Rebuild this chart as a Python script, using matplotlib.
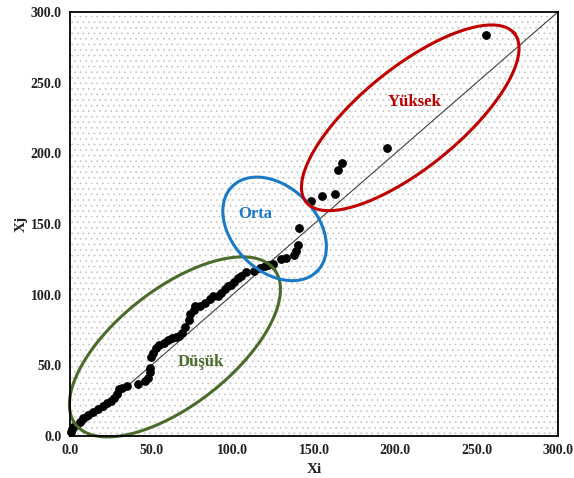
import numpy as np
import matplotlib.pyplot as plt
from matplotlib.patches import Rectangle

plt.rcParams['font.family'] = ['Liberation Serif', 'DejaVu Serif']
plt.rcParams['hatch.color'] = '#c4c4c4'
plt.rcParams['hatch.linewidth'] = 0.5

# Düşük grubu
low_x = [0.5, 1, 2, 6, 8, 11, 14, 17, 20, 23, 25, 27, 29, 30, 32, 35, 42, 46, 48, 49,
         49, 50, 51, 53, 55, 58, 60, 63, 65, 67, 69, 71, 73, 74, 76, 77, 80, 83, 86, 88,
         91, 93, 95, 97, 99, 101, 103, 105, 108]
low_y = [3, 5, 6, 10, 13, 15, 17, 19, 21, 23, 25, 27, 30, 33, 34, 35, 37, 39, 41, 45,
         48, 56, 59, 62, 64, 66, 68, 69, 70, 71, 73, 77, 82, 86, 89, 92, 92, 94, 97, 99,
         99, 101, 104, 106, 107, 109, 112, 113, 116]

# Orta grubu
mid_x = [113, 117, 120, 122, 125, 130, 133, 138, 139, 140, 141]
mid_y = [117, 119, 120, 121, 122, 125, 126, 128, 131, 135, 147]

# Yüksek grubu
high_x = [148, 155, 163, 165, 167, 195, 256]
high_y = [166, 170, 171, 188, 193, 204, 284]

ticks = [0, 50, 100, 150, 200, 250, 300]

fig = plt.figure(figsize=(5.74, 4.78), dpi=100)
ax = fig.add_axes([0.122, 0.088, 0.850, 0.887])
ax.set_xlim(0, 300)
ax.set_ylim(0, 300)

# noktali arka plan
ax.add_patch(Rectangle((0, 0), 1, 1, transform=ax.transAxes, facecolor='white',
                       edgecolor='#c4c4c4', hatch='...', lw=0, zorder=0))

# y = x dogrusu
ax.plot([0, 300], [0, 300], color='#404040', lw=0.8, zorder=2)

all_x = low_x + mid_x + high_x
all_y = low_y + mid_y + high_y
ax.scatter(all_x, all_y, s=28, color='black', zorder=3, clip_on=False)

# elipsler (piksel cinsinden eksen uzunluklari)
sx = 0.850 * 574 / 300
sy = 0.887 * 478 / 300


def ellipse(cx, cy, a, b, ang, color):
    t = np.linspace(0, 2 * np.pi, 300)
    th = np.radians(ang)
    u = a * np.cos(t) * np.cos(th) - b * np.sin(t) * np.sin(th)
    v = a * np.cos(t) * np.sin(th) + b * np.sin(t) * np.cos(th)
    ax.plot(cx + u / sx, cy + v / sy, color=color, lw=2.2, zorder=4, clip_on=False)


ellipse(64.5, 63.0, 126, 58, 38, '#4a6b2a')
ellipse(125.8, 146.5, 60, 42, -45, '#1a7ac8')
ellipse(209.2, 225.1, 134, 50, 39, '#c00000')

ax.text(80.4, 52.4, 'Düşük', color='#4a6b2a', fontsize=12, fontweight='bold',
        ha='center', va='center', zorder=5)
ax.text(114, 157, 'Orta', color='#1a7ac8', fontsize=12, fontweight='bold',
        ha='center', va='center', zorder=5)
ax.text(211.7, 236.4, 'Yüksek', color='#c00000', fontsize=12, fontweight='bold',
        ha='center', va='center', zorder=5)

ax.set_xticks(ticks)
ax.set_yticks(ticks)
ax.set_xticklabels([f'{t:.1f}' for t in ticks], fontweight='bold', fontsize=10)
ax.set_yticklabels([f'{t:.1f}' for t in ticks], fontweight='bold', fontsize=10)
ax.tick_params(length=0, pad=6, colors='#222222')
ax.set_xlabel('Xi', fontweight='bold', fontsize=11, labelpad=4, color='#222222')
ax.set_ylabel('Xj', fontweight='bold', fontsize=11, labelpad=2, color='#222222')

for s in ax.spines.values():
    s.set_linewidth(1.3)
    s.set_zorder(6)

fig.savefig('out.png', dpi=100)
